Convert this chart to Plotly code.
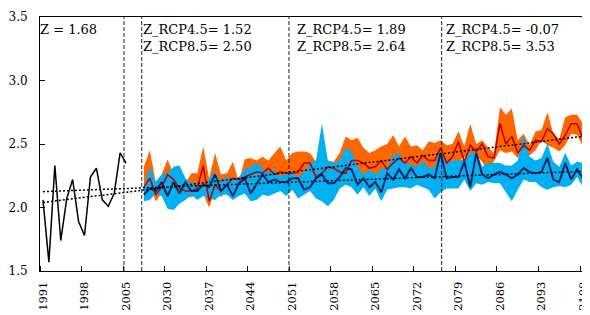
import plotly.graph_objects as go

# ---------------- data ----------------
obs_years = list(range(1991, 2006))
proj_years = list(range(2024, 2101))
categories = obs_years + proj_years          # 92 category slots on the axis
proj_start_year = 2026                        # projections drawn from here

observed = [2.06, 1.57, 2.33, 1.74, 2.07, 2.22, 1.89, 1.78, 2.24, 2.31,
            2.06, 2.01, 2.11, 2.43, 2.35]

# 2026 .. 2100
rcp85_upper = [2.32, 2.45, 2.20, 2.26, 2.38, 2.26, 2.30, 2.19, 2.27, 2.27,
               2.48, 2.23, 2.43, 2.26, 2.27, 2.36, 2.20, 2.38, 2.39, 2.37,
               2.40, 2.37, 2.43, 2.48, 2.37, 2.43, 2.44, 2.44, 2.43, 2.36,
               2.31, 2.37, 2.36, 2.43, 2.56, 2.53, 2.55, 2.47, 2.43, 2.45,
               2.48, 2.50, 2.57, 2.48, 2.56, 2.48, 2.49, 2.45, 2.52, 2.51,
               2.53, 2.49, 2.50, 2.60, 2.48, 2.66, 2.50, 2.53, 2.47, 2.43,
               2.79, 2.73, 2.78, 2.53, 2.58, 2.49, 2.60, 2.61, 2.75, 2.58,
               2.54, 2.71, 2.73, 2.73, 2.66]
rcp85_lower = [2.11, 2.18, 2.05, 2.11, 2.21, 2.17, 2.10, 2.08, 2.08, 2.10,
               2.11, 2.00, 2.13, 2.08, 2.13, 2.18, 2.17, 2.20, 2.21, 2.23,
               2.22, 2.23, 2.21, 2.19, 2.22, 2.22, 2.19, 2.23, 2.30, 2.19,
               2.22, 2.27, 2.25, 2.23, 2.24, 2.30, 2.25, 2.22, 2.24, 2.22,
               2.25, 2.27, 2.30, 2.33, 2.30, 2.30, 2.28, 2.32, 2.27, 2.28,
               2.38, 2.30, 2.37, 2.36, 2.40, 2.39, 2.41, 2.36, 2.28, 2.36,
               2.45, 2.43, 2.44, 2.39, 2.47, 2.41, 2.45, 2.53, 2.49, 2.47,
               2.44, 2.49, 2.58, 2.57, 2.48]
rcp85_mean = [2.16, 2.23, 2.10, 2.16, 2.26, 2.22, 2.15, 2.13, 2.13, 2.15,
              2.33, 2.05, 2.18, 2.13, 2.18, 2.23, 2.22, 2.24, 2.26, 2.28,
              2.27, 2.31, 2.26, 2.28, 2.27, 2.27, 2.28, 2.35, 2.35, 2.24,
              2.27, 2.32, 2.31, 2.28, 2.27, 2.37, 2.37, 2.35, 2.31, 2.32,
              2.37, 2.30, 2.35, 2.39, 2.35, 2.40, 2.35, 2.41, 2.37, 2.37,
              2.47, 2.35, 2.40, 2.52, 2.36, 2.49, 2.44, 2.50, 2.40, 2.39,
              2.66, 2.50, 2.56, 2.43, 2.49, 2.45, 2.53, 2.52, 2.62, 2.58,
              2.50, 2.57, 2.66, 2.66, 2.54]
rcp45_upper = [2.16, 2.32, 2.20, 2.26, 2.27, 2.32, 2.33, 2.23, 2.19, 2.19,
               2.16, 2.23, 2.28, 2.20, 2.24, 2.23, 2.24, 2.30, 2.32, 2.35,
               2.31, 2.28, 2.30, 2.24, 2.27, 2.28, 2.24, 2.28, 2.35, 2.37,
               2.66, 2.37, 2.35, 2.37, 2.47, 2.44, 2.32, 2.26, 2.30, 2.26,
               2.30, 2.32, 2.41, 2.43, 2.35, 2.34, 2.32, 2.37, 2.31, 2.32,
               2.46, 2.35, 2.37, 2.37, 2.38, 2.43, 2.44, 2.32, 2.35, 2.35,
               2.35, 2.33, 2.33, 2.37, 2.57, 2.40, 2.37, 2.39, 2.50, 2.36,
               2.32, 2.43, 2.33, 2.36, 2.35]
rcp45_lower = [2.05, 2.06, 2.11, 2.09, 1.99, 1.98, 2.03, 2.06, 2.10, 2.06,
               2.09, 2.07, 2.06, 2.10, 2.10, 2.06, 2.09, 2.11, 2.05, 2.06,
               2.10, 2.09, 2.11, 2.13, 2.09, 2.14, 2.07, 2.10, 2.13, 2.07,
               2.05, 2.01, 2.06, 2.15, 2.18, 2.16, 2.10, 2.16, 2.09, 2.15,
               2.05, 2.14, 2.15, 2.16, 2.16, 2.15, 2.18, 2.16, 2.14, 2.07,
               2.12, 2.15, 2.15, 2.15, 2.22, 2.13, 2.19, 2.18, 2.20, 2.19,
               2.19, 2.12, 2.05, 2.14, 2.22, 2.20, 2.20, 2.16, 2.14, 2.16,
               2.17, 2.16, 2.18, 2.24, 2.16]
rcp45_mean = [2.10, 2.15, 2.13, 2.20, 2.09, 2.20, 2.11, 2.20, 2.13, 2.13,
              2.18, 2.16, 2.26, 2.13, 2.18, 2.09, 2.19, 2.23, 2.11, 2.18,
              2.26, 2.20, 2.22, 2.20, 2.20, 2.23, 2.23, 2.14, 2.16, 2.23,
              2.26, 2.19, 2.19, 2.24, 2.31, 2.30, 2.18, 2.23, 2.16, 2.20,
              2.12, 2.27, 2.22, 2.30, 2.23, 2.31, 2.24, 2.24, 2.26, 2.23,
              2.43, 2.23, 2.24, 2.24, 2.36, 2.16, 2.43, 2.26, 2.23, 2.26,
              2.28, 2.26, 2.23, 2.26, 2.31, 2.28, 2.27, 2.28, 2.39, 2.22,
              2.20, 2.35, 2.22, 2.30, 2.23]

# linear trends (value at first and last category)
trend_rcp85 = [2.04, 2.56]
trend_rcp45 = [2.125, 2.285]

period_stats = [
    ["Z = 1.68"],
    ["Z_RCP4.5= 1.52", "Z_RCP8.5= 2.50"],
    ["Z_RCP4.5= 1.89", "Z_RCP8.5= 2.64"],
    ["Z_RCP4.5= -0.07", "Z_RCP8.5= 3.53"],
]

# ---------------- layout helpers ----------------
idx = {y: i for i, y in enumerate(categories)}
x_obs = [idx[y] for y in obs_years]
p0 = idx[proj_start_year]
x_proj = list(range(p0, p0 + len(rcp85_mean)))
n = len(categories)

FONT = "DejaVu Serif"

fig = go.Figure()

fig.add_trace(go.Scatter(x=x_proj, y=rcp85_lower, mode="lines",
                         line=dict(width=0, color="#FF6600"), hoverinfo="skip"))
fig.add_trace(go.Scatter(x=x_proj, y=rcp85_upper, mode="lines", fill="tonexty",
                         fillcolor="#FF6600", line=dict(width=0, color="#FF6600"),
                         hoverinfo="skip"))
fig.add_trace(go.Scatter(x=x_proj, y=rcp45_lower, mode="lines",
                         line=dict(width=0, color="#00B0F0"), hoverinfo="skip"))
fig.add_trace(go.Scatter(x=x_proj, y=rcp45_upper, mode="lines", fill="tonexty",
                         fillcolor="#00B0F0", line=dict(width=0, color="#00B0F0"),
                         hoverinfo="skip"))
fig.add_trace(go.Scatter(x=x_proj, y=rcp85_mean, mode="lines",
                         line=dict(width=1.6, color="#C00000")))
fig.add_trace(go.Scatter(x=x_proj, y=rcp45_mean, mode="lines",
                         line=dict(width=2, color="#0A2463")))
fig.add_trace(go.Scatter(x=x_obs, y=observed, mode="lines",
                         line=dict(width=1.5, color="black")))
for tr in (trend_rcp85, trend_rcp45):
    fig.add_trace(go.Scatter(x=[0, n - 1], y=tr, mode="lines",
                             line=dict(width=1.5, color="black", dash="2px,2px")))

for xv in [13.65, 16.64, 41.45, 67.18]:
    fig.add_shape(type="line", xref="x", yref="paper", x0=xv, x1=xv, y0=0, y1=1,
                  line=dict(color="#222222", width=1, dash="4px,2px"))

ann_x = [-0.45, 16.45, 42.5, 67.65]
ann_shift = [-2, 0, 0, 0]
for xs, sh, lines in zip(ann_x, ann_shift, period_stats):
    for k, t in enumerate(lines):
        fig.add_annotation(x=xs, y=3.40 - k * 0.134, xref="x", yref="y",
                           xshift=sh, text=t, showarrow=False, xanchor="left",
                           yanchor="middle",
                           font=dict(family=FONT, size=13, color="black"))

tick_idx = list(range(0, n, 7))
fig.update_xaxes(range=[-0.5, n - 0.5], showgrid=False, zeroline=False,
                 automargin=False, ticklabeloverflow="allow",
                 showline=True, linecolor="black", linewidth=1, mirror=True,
                 tickmode="array", tickvals=tick_idx,
                 ticktext=[str(categories[i]) for i in tick_idx],
                 tickangle=-90, ticks="", ticklabelstandoff=5,
                 tickfont=dict(family=FONT, size=11.5, color="black"),
                 minor=dict(tickmode="array",
                            tickvals=[i - 0.5 for i in tick_idx],
                            ticks="inside", ticklen=5, tickcolor="black",
                            tickwidth=1))
fig.update_yaxes(range=[1.5, 3.5], tickvals=[1.5, 2.0, 2.5, 3.0, 3.5],
                 tickformat=".1f", showgrid=False, zeroline=False,
                 automargin=False,
                 showline=True, linecolor="black", linewidth=1, mirror=True,
                 ticks="inside", ticklen=5, tickcolor="black",
                 ticklabelstandoff=9,
                 tickfont=dict(family=FONT, size=12, color="black"))
# page body keeps an 8px margin, so the figure is 8px smaller each way
fig.update_layout(width=582, height=307,
                  margin=dict(l=32, r=4, t=9, b=44),
                  paper_bgcolor="white", plot_bgcolor="white",
                  font=dict(family=FONT),
                  showlegend=False)

fig.write_html("out.html")
